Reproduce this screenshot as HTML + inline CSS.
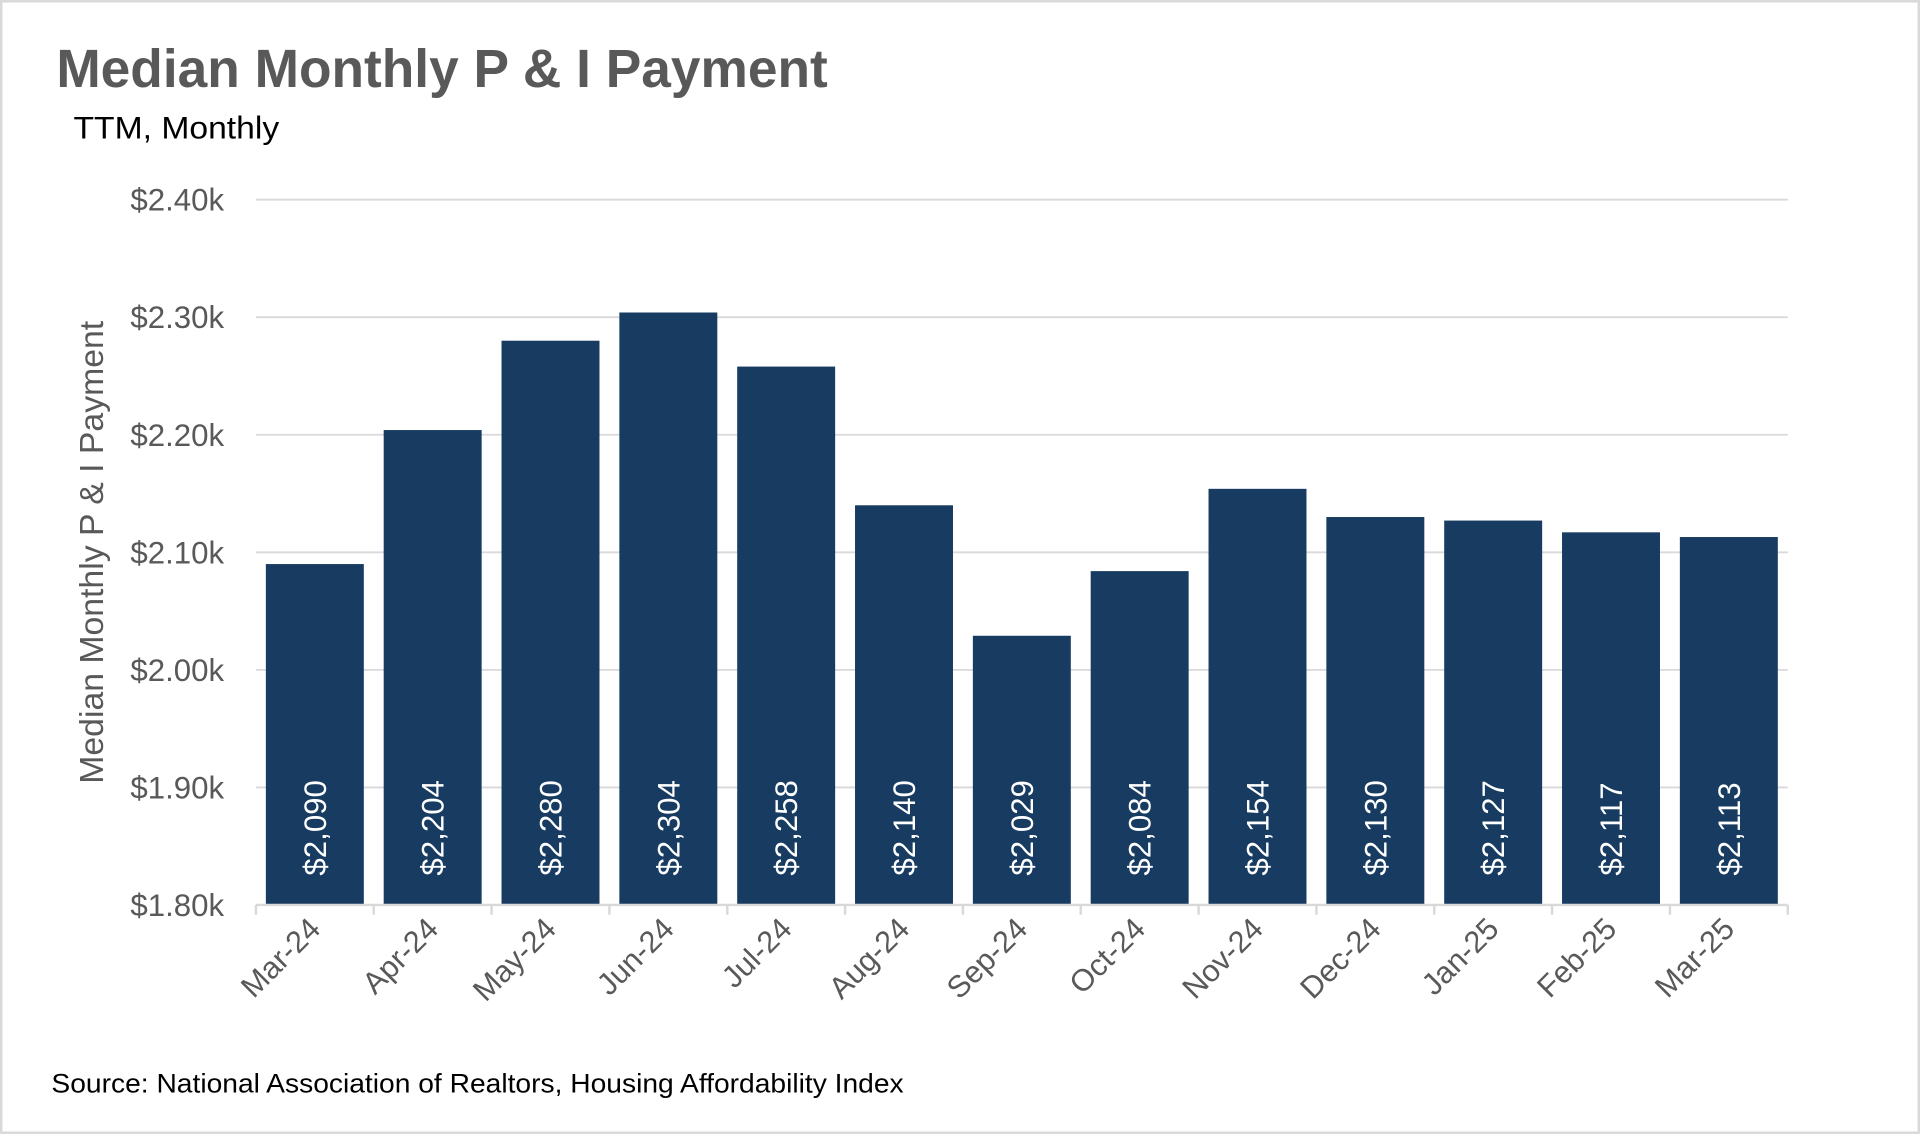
<!DOCTYPE html>
<html><head><meta charset="utf-8"><style>
html,body{margin:0;padding:0;background:#fff;}
svg{display:block;}
</style></head><body>
<svg id="chart" width="1920" height="1134" viewBox="0 0 1568 926" xmlns="http://www.w3.org/2000/svg" font-family="'Liberation Sans', sans-serif">
<rect x="1" y="1" width="1566" height="924" fill="#fff" stroke="#d9d9d9" stroke-width="2"/>
<text x="46" y="71" font-size="44" font-weight="bold" fill="#595959" textLength="630" lengthAdjust="spacingAndGlyphs">Median Monthly P &amp; I Payment</text>
<text x="60" y="113" font-size="26" fill="#000" textLength="168" lengthAdjust="spacingAndGlyphs">TTM, Monthly</text>
<text x="84" y="451" font-size="27" fill="#595959" text-anchor="middle" textLength="378" lengthAdjust="spacingAndGlyphs" transform="rotate(-90 84 451)">Median Monthly P &amp; I Payment</text>
<text x="42" y="892" font-size="22" fill="#000" textLength="696" lengthAdjust="spacingAndGlyphs">Source: National Association of Realtors, Housing Affordability Index</text>
<g id="grid"></g><g id="bars"></g><g id="axes"></g>
</svg>
<script>
const categories=["Mar-24","Apr-24","May-24","Jun-24","Jul-24","Aug-24","Sep-24","Oct-24","Nov-24","Dec-24","Jan-25","Feb-25","Mar-25"];
const values=[2090,2204,2280,2304,2258,2140,2029,2084,2154,2130,2127,2117,2113];
const yTicks=[1800,1900,2000,2100,2200,2300,2400];
const yTickLabels=["$1.80k","$1.90k","$2.00k","$2.10k","$2.20k","$2.30k","$2.40k"];
const valueLabels=["$2,090","$2,204","$2,280","$2,304","$2,258","$2,140","$2,029","$2,084","$2,154","$2,130","$2,127","$2,117","$2,113"];
const NS="http://www.w3.org/2000/svg";
const X0=209,X1=1460,Y0=739,Y1=163,YMIN=1800,YMAX=2400;
const band=(X1-X0)/categories.length;
function y(v){return Y0-(v-YMIN)/(YMAX-YMIN)*(Y0-Y1);}
function xc(i){return X0+band*(i+0.5);}
function mk(tag,attrs,parent,txt){const e=document.createElementNS(NS,tag);for(const k in attrs)e.setAttribute(k,attrs[k]);if(txt!==undefined)e.textContent=txt;parent.appendChild(e);return e;}
const grid=document.getElementById('grid'),bars=document.getElementById('bars'),axes=document.getElementById('axes');
yTicks.forEach((t,i)=>{
  if(i>0){const l=mk('line',{x1:X0,x2:X1,y1:y(t),y2:y(t),stroke:'#d9d9d9','stroke-width':1.5},grid);
  
  }
  const tx=mk('text',{x:183,y:y(t)+9,'font-size':25.5,fill:'#595959','text-anchor':'end'},axes,yTickLabels[i]);
  
  
});
const ax=mk('line',{x1:X0,x2:X1,y1:Y0,y2:Y0,stroke:'#d9d9d9','stroke-width':2},axes);


for(let i=0;i<=categories.length;i++){const tk=mk('line',{x1:X0+band*i,x2:X0+band*i,y1:Y0,y2:Y0+8,stroke:'#d9d9d9','stroke-width':2},axes);
  
  }
const bw=80;
values.forEach((v,i)=>{
  const r=mk('rect',{x:xc(i)-bw/2,y:y(v),width:bw,height:Y0-y(v),fill:'#173B61'},bars);
  
  
  const lx=xc(i)+9,ly=715;
  const t=mk('text',{x:lx,y:ly,'font-size':25.5,fill:'#fff',transform:`rotate(-90 ${lx} ${ly})`},bars,valueLabels[i]);
  
  
  const cx=xc(i)+6,cy=760;
  const c=mk('text',{x:cx,y:cy,'font-size':25,fill:'#595959','text-anchor':'end',transform:`rotate(-45 ${cx} ${cy})`},axes,categories[i]);
  
  
});
</script>
</body></html>
